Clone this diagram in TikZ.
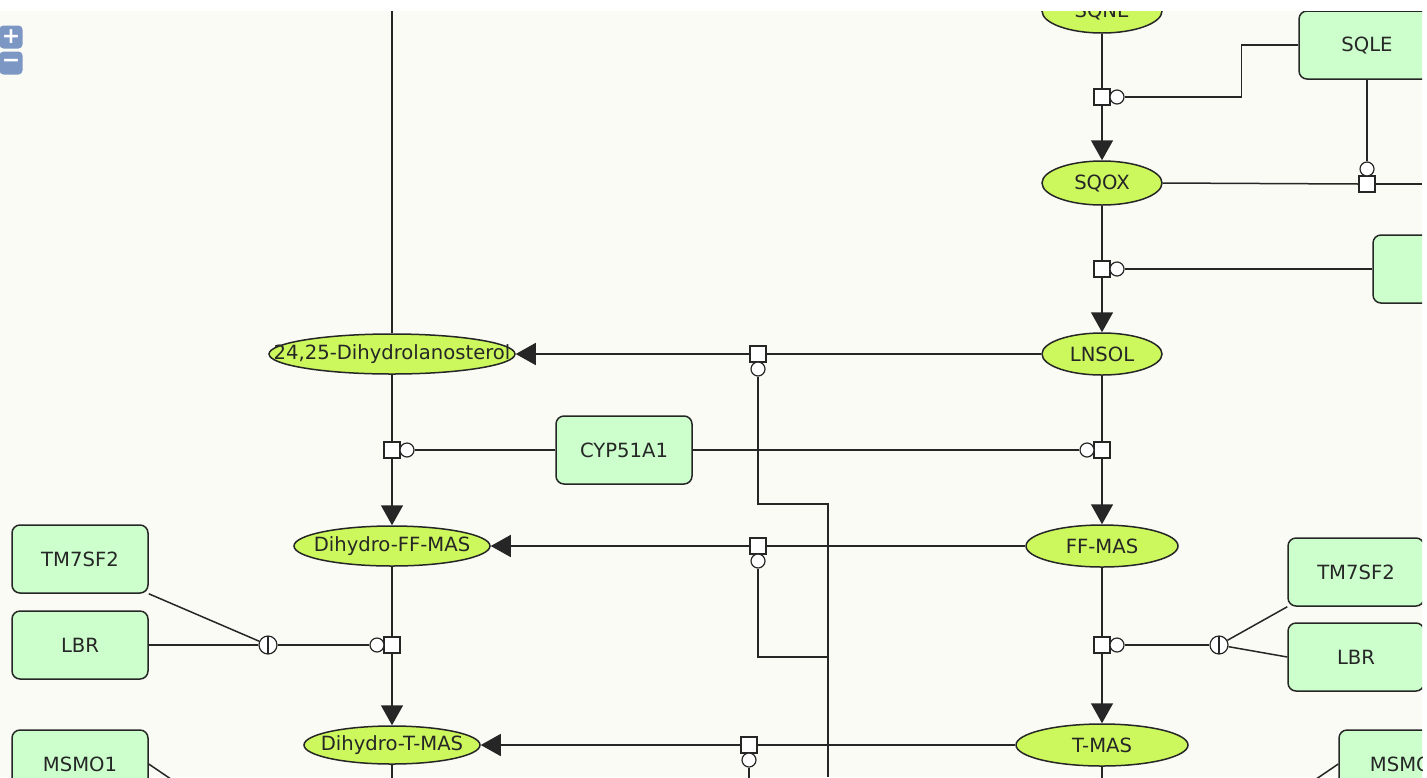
\documentclass[tikz,border=0pt]{standalone}
\usepackage{fontspec}
\setmainfont{DejaVu Sans}
\usepackage{xcolor}
\usepackage{tikz}
\usetikzlibrary{arrows.meta,shapes.geometric}

\definecolor{canvas}{RGB}{251,251,246}
\definecolor{metabfill}{RGB}{204,248,94}
\definecolor{genefill}{RGB}{204,255,204}
\definecolor{ink}{RGB}{38,38,38}
\definecolor{btnblue}{RGB}{124,151,196}

\tikzset{
  metab/.style={ellipse, draw=ink, fill=metabfill, line width=0.75pt, inner sep=0pt},
  gene/.style={rectangle, rounded corners=4pt, draw=ink, fill=genefill, line width=0.75pt,
    minimum width=68pt, minimum height=34pt, text=ink},
  procbox/.style={rectangle, draw=ink, fill=white, line width=0.6pt, minimum size=8pt, inner sep=0pt},
  catal/.style={circle, draw=ink, fill=white, line width=0.6pt, minimum size=7pt, inner sep=0pt},
  andgate/.style={circle, draw=ink, fill=white, line width=0.6pt, minimum size=9pt, inner sep=0pt,
    path picture={\draw[ink, line width=0.6pt] (path picture bounding box.north) -- (path picture bounding box.south);}},
  conn/.style={ink, line width=0.75pt},
  prod/.style={conn, -{Triangle[length=10pt,width=11pt]}},
  zoombtn/.style={rectangle, rounded corners=2pt, fill=btnblue, text=white, minimum size=11.5pt,
    inner sep=0pt, font=\fontsize{11}{11}\selectfont\bfseries},
  every label/.style={text=ink, inner sep=0pt},
}

\begin{document}
\begin{tikzpicture}[x=0.5pt, y=-0.5pt, font=\fontsize{9.8}{11}\selectfont]
\useasboundingbox (0,0) rectangle (1427,777);
\fill[white] (0,0) rectangle (1427,777);
\fill[canvas] (0,11) rectangle (1422,777);

\begin{scope}
\clip (0,11) rectangle (1422,777);

% metabolites
\node[metab, minimum width=60pt, minimum height=22pt, label=center:SQNE] (sqne) at (1102,11) {};
\node[metab, minimum width=60pt, minimum height=22pt, label=center:SQOX] (sqox) at (1102,183) {};
\node[metab, minimum width=60pt, minimum height=21pt, label=center:LNSOL] (lnsol) at (1102,354) {};
\node[metab, minimum width=123pt, minimum height=20pt, label=center:24{,}25-Dihydrolanosterol] (dhlan) at (392,354) {};
\node[metab, minimum width=98pt, minimum height=20pt, label=center:Dihydro-FF-MAS] (dhff) at (392,546) {};
\node[metab, minimum width=76pt, minimum height=21pt, label=center:FF-MAS] (ffmas) at (1102,546) {};
\node[metab, minimum width=88pt, minimum height=19pt, label=center:Dihydro-T-MAS] (dhtmas) at (392,745) {};
\node[metab, minimum width=86pt, minimum height=21pt, label=center:T-MAS] (tmas) at (1102,745) {};

% enzymes
\node[gene] (sqle) at (1367,45) {SQLE};
\node[gene] (lss) at (1441,269) {};
\node[gene] (cyp) at (624,450) {CYP51A1};
\node[gene] (tm7l) at (80,559) {TM7SF2};
\node[gene] (lbrl) at (80,645) {LBR};
\node[gene] (tm7r) at (1356,572) {TM7SF2};
\node[gene] (lbrr) at (1356,657) {LBR};
\node[gene] (msmol) at (80,764) {MSMO1};
\node[gene] (msmor) at (1407,764) {MSMO1};

% process squares and catalysis circles
\node[procbox] (p1) at (1102,97) {};
\node[catal] (c1) at (1117,97) {};
\node[procbox] (p2) at (1367,184) {};
\node[catal] (c2) at (1367,169) {};
\node[procbox] (p3) at (1102,269) {};
\node[catal] (c3) at (1117,269) {};
\node[procbox] (p4) at (758,354) {};
\node[catal] (c4) at (758,369) {};
\node[procbox] (p5) at (392,450) {};
\node[catal] (c5) at (407,450) {};
\node[procbox] (p6) at (1102,450) {};
\node[catal] (c6) at (1087,450) {};
\node[procbox] (p7) at (758,546) {};
\node[catal] (c7) at (758,561) {};
\node[procbox] (p8) at (392,645) {};
\node[catal] (c8) at (377,645) {};
\node[procbox] (p9) at (1102,645) {};
\node[catal] (c9) at (1117,645) {};
\node[procbox] (p10) at (749,745) {};
\node[catal] (c10) at (749,760) {};
\node[andgate] (a1) at (268,645) {};
\node[andgate] (a2) at (1219,645) {};

\coordinate (topL) at (392,11);
\coordinate (rimR) at (1422,184);
\coordinate (j1) at (828,504);
\coordinate (j2) at (828,657);
\coordinate (foot) at (828,777);

% reactions
\draw[conn] (sqne) -- (p1);
\draw[prod] (p1) -- (sqox);
\draw[conn] (sqle.west) -- ++(-57,0) |- (c1.east);
\draw[conn] (sqox.east) -- (p2.west);
\draw[conn] (p2.east) -- (rimR);
\draw[conn] (sqle.south) -- (c2.north);
\draw[conn] (sqox) -- (p3);
\draw[prod] (p3) -- (lnsol);
\draw[conn] (c3.east) -- (lss.west);

\draw[conn] (lnsol.west) -- (p4.east);
\draw[prod] (p4.west) -- (dhlan.east);
\draw[conn] (c4.south) |- (j1) -- (foot);
\draw[conn] (topL) -- (dhlan.north);

\draw[conn] (dhlan) -- (p5);
\draw[prod] (p5) -- (dhff);
\draw[conn] (c5.east) -- (cyp.west);
\draw[conn] (lnsol) -- (p6);
\draw[prod] (p6) -- (ffmas);
\draw[conn] (cyp.east) -- (c6.west);

\draw[conn] (ffmas.west) -- (p7.east);
\draw[prod] (p7.west) -- (dhff.east);
\draw[conn] (c7.south) |- (j2);

\draw[conn] (dhff) -- (p8);
\draw[prod] (p8) -- (dhtmas);
\draw[conn] (c8.west) -- (a1.east);
\draw[conn] (a1) -- (lbrl.east);
\draw[conn] (a1) -- (tm7l.south east);
\draw[conn] (ffmas) -- (p9);
\draw[prod] (p9) -- (tmas);
\draw[conn] (c9.east) -- (a2.west);
\draw[conn] (a2) -- (tm7r.south west);
\draw[conn] (a2) -- (lbrr.west);

\draw[conn] (tmas.west) -- (p10.east);
\draw[prod] (p10.west) -- (dhtmas.east);
\draw[conn] (c10.south) -- ++(0,20);
\draw[conn] (dhtmas.south) -- ++(0,20);
\draw[conn] (tmas.south) -- ++(0,20);
\draw[conn] (msmol.east) -- ++(25,17);
\draw[conn] (msmor.west) -- ++(-25,17);
\end{scope}

% zoom controls
\node[zoombtn] (zoomin) at (11,37) {+};
\node[zoombtn] (zoomout) at (11,63) {−};
\end{tikzpicture}
\end{document}
